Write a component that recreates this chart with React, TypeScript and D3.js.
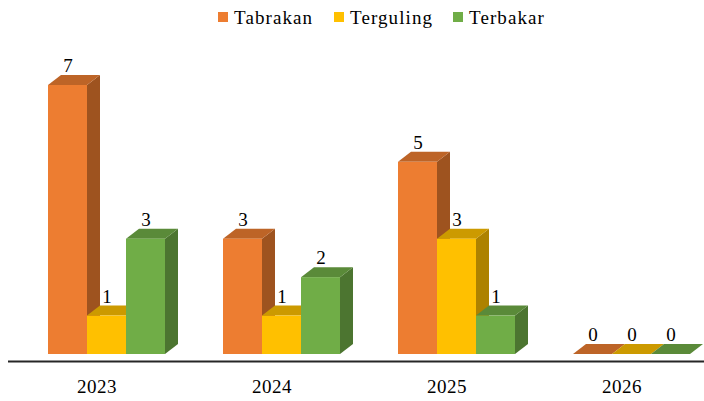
import React from "react";
import * as d3 from "d3";

const years = ["2023", "2024", "2025", "2026"];
const seriesNames = ["Tabrakan", "Terguling", "Terbakar"];
const tabrakan = [7, 3, 5, 0];
const terguling = [1, 1, 3, 0];
const terbakar = [3, 2, 1, 0];
const seriesValues = [tabrakan, terguling, terbakar];
const frontColors = ["#ED7D31", "#FFC000", "#70AD47"];
const topColors = ["#BD6427", "#CC9A00", "#5A8A39"];
const sideColors = ["#9E531F", "#AD8200", "#4C7530"];
const legendX = [218, 334, 453];

const WIDTH = 704;
const HEIGHT = 401;
const DX = 13;
const DY = 10;
const FONT = "'Liberation Serif', serif";

const x0 = d3.scaleBand<string>().domain(years).range([19, 719]);
const x1 = d3.scaleBand<string>().domain(seriesNames).range([29, 146]);
const y = d3.scaleLinear().domain([0, 7]).range([354, 85]);

const poly = (pts: [number, number][]) => d3.line()(pts) + "Z";

export default function App() {
  return (
    <svg
      width={WIDTH}
      height={HEIGHT}
      viewBox={`0 0 ${WIDTH} ${HEIGHT}`}
      style={{ position: "absolute", left: 0, top: 0, background: "#fff" }}
      fontFamily={FONT}
      fill="#000"
    >
      {seriesNames.map((name, i) => (
        <g key={name}>
          <rect x={legendX[i]} y={12} width={10} height={10} fill={frontColors[i]} />
          <text x={legendX[i] + 16} y={24} fontSize={19} letterSpacing={1.1}>
            {name}
          </text>
        </g>
      ))}

      {years.map((year, yi) => {
        const gx = x0(year) as number;
        return (
          <g key={year}>
            {seriesNames.map((name, si) => {
              const v = seriesValues[si][yi];
              const l = gx + (x1(name) as number);
              const w = x1.bandwidth();
              const r = l + w;
              const t = y(v);
              const b = y(0);
              return (
                <g key={name}>
                  <path
                    d={poly([[r, b], [r + DX, b - DY], [r + DX, t - DY], [r, t]])}
                    fill={sideColors[si]}
                  />
                  <path
                    d={poly([[l, t], [l + DX, t - DY], [r + DX, t - DY], [r, t]])}
                    fill={topColors[si]}
                  />
                  {v > 0 && <rect x={l} y={t} width={w} height={b - t} fill={frontColors[si]} />}
                </g>
              );
            })}
            {seriesNames.map((name, si) => {
              const v = seriesValues[si][yi];
              const l = gx + (x1(name) as number);
              return (
                <text
                  key={name}
                  x={l + x1.bandwidth() / 2 + 0.5}
                  y={y(v) - 13}
                  fontSize={19}
                  textAnchor="middle"
                >
                  {v}
                </text>
              );
            })}
            <text x={gx + 78} y={393} fontSize={19} letterSpacing={0.5} textAnchor="middle">
              {year}
            </text>
          </g>
        );
      })}

      <line x1={8} x2={WIDTH} y1={361.5} y2={361.5} stroke="#262626" strokeWidth={2} />
    </svg>
  );
}
